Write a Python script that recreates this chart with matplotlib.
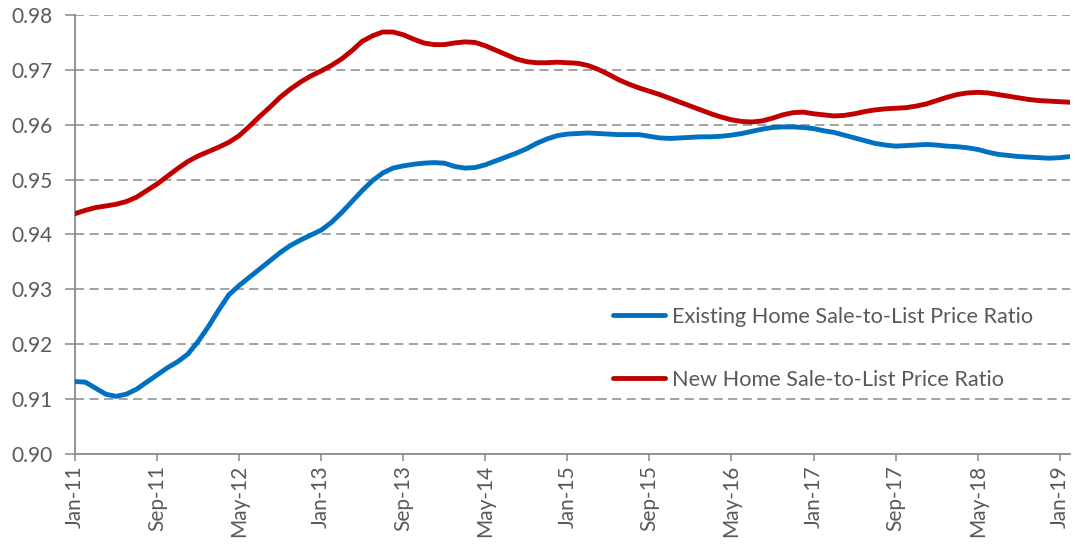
import matplotlib
matplotlib.use("Agg")
import matplotlib.pyplot as plt
import numpy as np

# monthly ratios, Jan-11 .. Feb-19
existing = [
    0.9132, 0.9131, 0.9120, 0.9109, 0.9105, 0.9109, 0.9118, 0.9131, 0.9144, 0.9157,
    0.9168, 0.9182, 0.9205, 0.9232, 0.9262, 0.9290, 0.9307, 0.9322, 0.9337, 0.9352,
    0.9367, 0.9380, 0.9390, 0.9399, 0.9408, 0.9422, 0.9440, 0.9460, 0.9480, 0.9498,
    0.9512, 0.9521, 0.9525, 0.9528, 0.9530, 0.9531, 0.9530, 0.9524, 0.9521, 0.9522,
    0.9527, 0.9534, 0.9541, 0.9548, 0.9556, 0.9566, 0.9574, 0.9580, 0.9583, 0.9584,
    0.9585, 0.9584, 0.9583, 0.9582, 0.9582, 0.9582, 0.9579, 0.9576, 0.9575, 0.9576,
    0.9577, 0.9578, 0.9578, 0.9579, 0.9581, 0.9584, 0.9588, 0.9592, 0.9595, 0.9596,
    0.9596, 0.9595, 0.9593, 0.9589, 0.9586, 0.9581, 0.9576, 0.9571, 0.9566, 0.9563,
    0.9561, 0.9562, 0.9563, 0.9564, 0.9563, 0.9561, 0.9560, 0.9558, 0.9555, 0.9550,
    0.9546, 0.9544, 0.9542, 0.9541, 0.9540, 0.9539, 0.9540, 0.9542,
]
new_home = [
    0.9438, 0.9444, 0.9449, 0.9452, 0.9455, 0.9460, 0.9468, 0.9480, 0.9492, 0.9506,
    0.9520, 0.9533, 0.9543, 0.9551, 0.9559, 0.9568, 0.9580, 0.9597, 0.9615, 0.9632,
    0.9650, 0.9665, 0.9678, 0.9689, 0.9698, 0.9708, 0.9720, 0.9735, 0.9752, 0.9762,
    0.9769, 0.9769, 0.9764, 0.9756, 0.9749, 0.9746, 0.9746, 0.9749, 0.9751, 0.9750,
    0.9744, 0.9736, 0.9728, 0.9720, 0.9715, 0.9713, 0.9713, 0.9714, 0.9713, 0.9712,
    0.9708, 0.9701, 0.9692, 0.9682, 0.9674, 0.9667, 0.9661, 0.9655, 0.9648, 0.9641,
    0.9634, 0.9627, 0.9620, 0.9614, 0.9609, 0.9606, 0.9605, 0.9607, 0.9612, 0.9618,
    0.9622, 0.9623, 0.9620, 0.9618, 0.9616, 0.9617, 0.9620, 0.9624, 0.9627, 0.9629,
    0.9630, 0.9631, 0.9634, 0.9638, 0.9644, 0.9650, 0.9655, 0.9658, 0.9659, 0.9658,
    0.9655, 0.9652, 0.9649, 0.9646, 0.9644, 0.9643, 0.9642, 0.9641,
]
tick_labels = ["Jan-11", "Sep-11", "May-12", "Jan-13", "Sep-13", "May-14", "Jan-15",
               "Sep-15", "May-16", "Jan-17", "Sep-17", "May-18", "Jan-19"]
y_ticks = [0.90, 0.91, 0.92, 0.93, 0.94, 0.95, 0.96, 0.97, 0.98]

plt.rcParams['font.family'] = ['Lato', 'DejaVu Sans']
txt = '#595959'
axc = '#898989'

fig = plt.figure(figsize=(10.76, 5.45), dpi=100)
ax = fig.add_axes([0.0697, 0.167, 0.9247, 0.8055])

months = np.arange(len(existing))
ax.plot(months, existing, color='#0070C0', lw=3.5, solid_capstyle='round',
        label='Existing Home Sale-to-List Price Ratio', zorder=3)
ax.plot(months, new_home, color='#C00000', lw=3.5, solid_capstyle='round',
        label='New Home Sale-to-List Price Ratio', zorder=3)

ax.set_xlim(0, len(existing) - 1)
ax.set_ylim(0.90, 0.98)
ax.set_yticks(y_ticks)
ax.set_yticklabels(['%.2f' % v for v in y_ticks])
ax.set_xticks(np.arange(0, len(existing), 8))
ax.set_xticklabels(tick_labels, rotation=90)

for v in y_ticks[1:]:
    ax.axhline(v, color=axc, lw=1.1, dashes=(6, 3.5), zorder=1)

for s in ['top', 'right']:
    ax.spines[s].set_visible(False)
for s in ['left', 'bottom']:
    ax.spines[s].set_color(axc)
    ax.spines[s].set_linewidth(1.3)

ax.tick_params(axis='y', length=7, width=1.1, color=axc, labelcolor=txt, labelsize=15, pad=9)
ax.tick_params(axis='x', length=5, width=1.1, color=axc, labelcolor=txt, labelsize=15, pad=3)

leg = ax.legend(loc='upper left', bbox_to_anchor=(0.5407, 0.335), frameon=False,
                fontsize=15.6, handlelength=2.4, handletextpad=0.32, labelspacing=1.98,
                borderpad=0, borderaxespad=0)
for t in leg.get_texts():
    t.set_color(txt)

fig.savefig('out.png', dpi=100)
